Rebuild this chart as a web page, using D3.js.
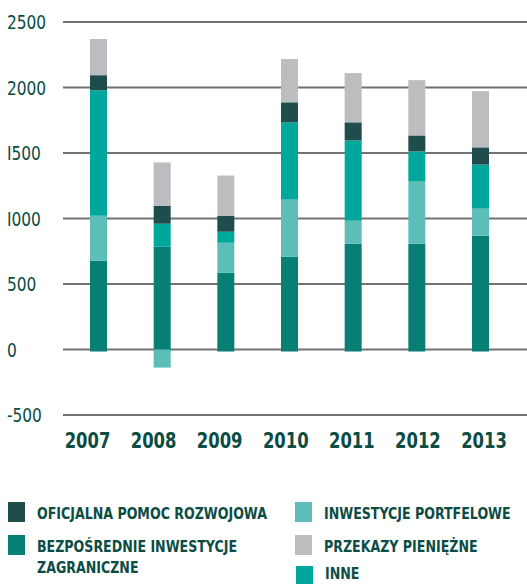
<!DOCTYPE html>
<html><head><meta charset="utf-8">
<script src="https://cdn.jsdelivr.net/npm/d3@7"></script>
<style>
body{margin:0;background:#fff;}
text{font-family:"DejaVu Sans Condensed","DejaVu Sans",sans-serif;fill:#0b4c43;}
</style></head>
<body><svg id="c" width="527" height="584"></svg>
<script>
const years = ["2007","2008","2009","2010","2011","2012","2013"];
const biz   = [677, 784, 585, 707, 807, 807, 868];   // Bezpośrednie inwestycje zagraniczne
const portf = [344, -138, 230, 437, 176, 475, 207];  // Inwestycje portfelowe
const inne  = [958, 176, 84, 590, 613, 230, 337];    // Inne
const oda   = [115, 138, 122, 153, 138, 122, 131];   // Oficjalna pomoc rozwojowa
const remit = [276, 330, 307, 330, 376, 422, 429];   // Przekazy pieniężne
const yTicks = [-500, 0, 500, 1000, 1500, 2000, 2500];
const tickLabels = ["-500","0","500","I000","I500","2000","2500"];

const seriesNames = ["BEZPOŚREDNIE INWESTYCJE ZAGRANICZNE","INWESTYCJE PORTFELOWE","INNE","OFICJALNA POMOC ROZWOJOWA","PRZEKAZY PIENIĘŻNE"];
const seriesVals = [biz, portf, inne, oda, remit];
const colors = ["#077f74","#5bbfb7","#00a79b","#1f4c4c","#bcbdc1"];

const svg = d3.select("#c");
const y = d3.scaleLinear().domain([-500, 2500]).range([415, 22]);
const xb = d3.scalePoint().domain(years).range([98.5, 480.5]);
const xl = d3.scalePoint().domain(years).range([87.5, 484]);
const bw = 17;

// gridlines
svg.append("g").selectAll("line").data(yTicks).join("line")
  .attr("x1", 63).attr("x2", 527)
  .attr("y1", d => y(d)).attr("y2", d => y(d))
  .attr("stroke", "#727272").attr("stroke-width", 2);

// y labels
svg.append("g").selectAll("text").data(yTicks).join("text")
  .attr("transform", d => `translate(7,${y(d) + 7}) scale(0.9,1)`)
  .attr("font-size", 19).attr("font-weight", 500)
  .text((d, i) => tickLabels[i]);

// stacked bars
const g = svg.append("g");
years.forEach((yr, i) => {
  let pos = 0, neg = 0;
  seriesVals.forEach((arr, s) => {
    const v = arr[i];
    let y0, y1;
    if (v >= 0) { y0 = pos; y1 = pos + v; pos = y1; }
    else { y0 = neg + v; y1 = neg; neg = y0; }
    g.append("rect")
      .attr("x", xb(yr) - bw / 2).attr("width", bw)
      .attr("y", y(y1)).attr("height", y(y0) - y(y1) + (y0 === 0 && v >= 0 ? 2 : 0))
      .attr("fill", colors[s]);
  });
});

// x labels
svg.append("g").selectAll("text").data(years).join("text")
  .attr("transform", d => `translate(${xl(d)},448) scale(0.83,1)`)
  .attr("text-anchor", "middle").attr("font-size", 22).attr("font-weight", "bold")
  .text(d => d);

// legend
const legend = [
  {s:3, x:8, y:502, lines:["OFICJALNA POMOC ROZWOJOWA"]},
  {s:0, x:8, y:535, lines:["BEZPOŚREDNIE INWESTYCJE","ZAGRANICZNE"]},
  {s:1, x:295, y:502, lines:["INWESTYCJE PORTFELOWE"]},
  {s:4, x:295, y:535, lines:["PRZEKAZY PIENIĘŻNE"]},
  {s:2, x:296, y:566, lines:["INNE"]}
];
const lg = svg.append("g");
legend.forEach(L => {
  lg.append("rect").attr("x", L.x).attr("y", L.y).attr("width", 17).attr("height", 20).attr("fill", colors[L.s]);
  L.lines.forEach((t, k) => {
    lg.append("text")
      .attr("transform", `translate(${L.x + 29},${L.y + (L.s === 2 ? 13 : 17) + k * 21}) scale(0.85,1)`)
      .attr("font-size", 16.5).attr("font-weight", "bold").text(t);
  });
});
</script></body></html>
